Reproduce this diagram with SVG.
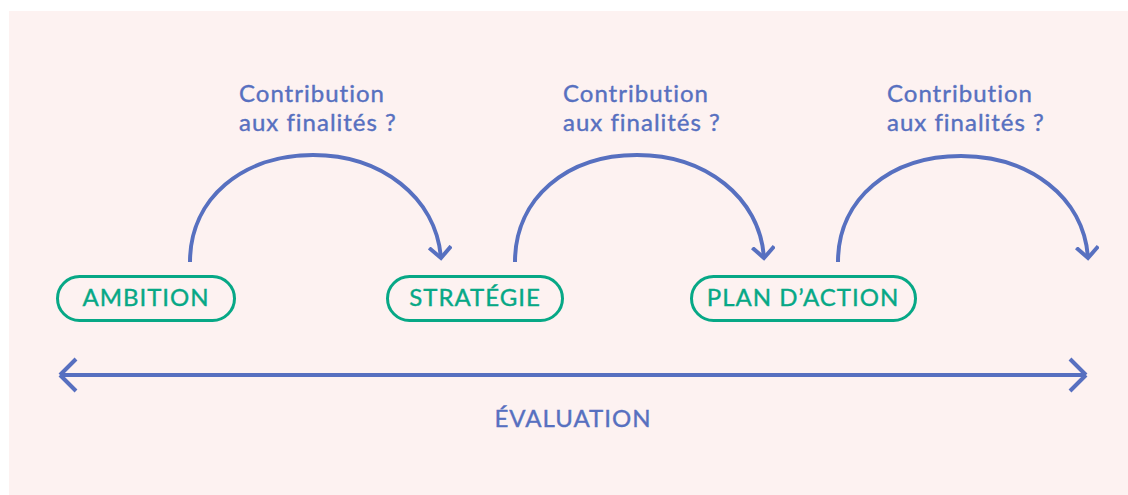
<svg xmlns="http://www.w3.org/2000/svg" width="1128" height="495" viewBox="0 0 1128 495">
<style>
.lbl{font-family:Lato,"Open Sans","Liberation Sans",sans-serif;font-size:24px;fill:#5770c0;stroke:#5770c0;stroke-width:0.4px;letter-spacing:1px}
.node rect{fill:none;stroke:#07a886;stroke-width:3}
.node text{font-family:Lato,"Open Sans","Liberation Sans",sans-serif;font-size:24px;fill:#07a886;stroke:#07a886;stroke-width:0.4px;text-anchor:middle;letter-spacing:1px}
.conn path{fill:none;stroke:#5770c0;stroke-width:4}
</style>
<defs>
<marker id="chev" viewBox="-12 -12 24 24" markerWidth="24" markerHeight="24" markerUnits="userSpaceOnUse" orient="auto" refX="0" refY="0">
<path d="M-11,-11 L0,0 L-11,11" fill="none" stroke="#5770c0" stroke-width="4"/>
</marker>
</defs>
<rect x="9" y="11" width="1119" height="484" fill="#fdf2f1"/>
<g id="labels">
<text class="lbl" x="239" y="102">Contribution</text>
<text class="lbl" x="239" y="131">aux finalités ?</text>
<text class="lbl" x="563" y="102">Contribution</text>
<text class="lbl" x="563" y="131">aux finalités ?</text>
<text class="lbl" x="887" y="102">Contribution</text>
<text class="lbl" x="887" y="131">aux finalités ?</text>
</g>
<g id="node-ambition" class="node"><rect x="57.5" y="276.5" width="177" height="44" rx="22"/><text x="146" y="305.5">AMBITION</text></g>
<g id="node-strategie" class="node"><rect x="387.5" y="276.5" width="175" height="44" rx="22"/><text x="475" y="305.5">STRATÉGIE</text></g>
<g id="node-plan" class="node"><rect x="691.5" y="276.5" width="224" height="44" rx="22"/><text x="803" y="305.5">PLAN D’ACTION</text></g>
<g id="connectors" class="conn">
<path d="M190,262 C190,198 243,155 313,155 C381,155 436,197 441,258" marker-end="url(#chev)"/>
<path d="M515,262 C515,198 567,155 637,155 C705,155 760,197 764,258" marker-end="url(#chev)"/>
<path d="M838,262 C838,198 891,156 961,156 C1029,156 1084,197 1088,258" marker-end="url(#chev)"/>
<path d="M60,375 L1086,375"/>
<path d="M60,375 L76,359 M60,375 L76,391 M1086,375 L1070,359 M1086,375 L1070,391"/>
</g>
<text class="lbl" x="573" y="427" text-anchor="middle">ÉVALUATION</text>
</svg>
